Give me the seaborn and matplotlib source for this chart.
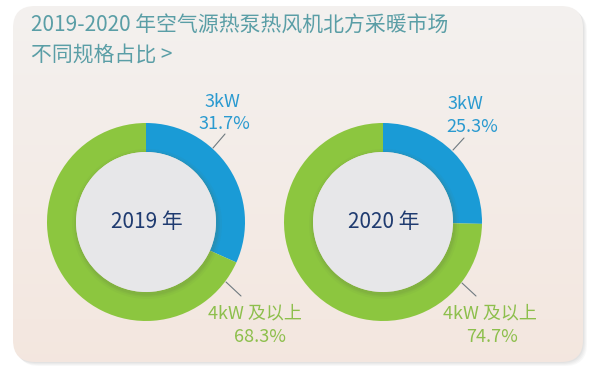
import numpy as np
import pandas as pd
import matplotlib.pyplot as plt
import seaborn as sns
from matplotlib.patches import FancyBboxPatch, Circle

# data
years = ["2019 年", "2020 年"]
segments = ["3kW", "4kW 及以上"]
share_2019 = [31.7, 68.3]
share_2020 = [25.3, 74.7]
title = "2019-2020 年空气源热泵热风机北方采暖市场\n不同规格占比 >"

sns.set_theme(style="white")
plt.rcParams['font.family'] = ['Noto Sans CJK SC', 'DejaVu Sans']

colors = sns.color_palette(["#1a9bd6", "#8cc63f"])
label_colors = ["#2a9ad0", "#8dbf4c"]

W, H = 600, 370
fig = plt.figure(figsize=(6, 3.7), dpi=100)
fig.patch.set_facecolor("white")
ax = fig.add_axes([0, 0, 1, 1])


def Y(y):
    # image rows -> data y
    return H - y


# card shadow + card
for i, a in enumerate([0.05, 0.05, 0.06, 0.07]):
    off = 4 - i
    sh = FancyBboxPatch((13 + off, Y(362) - off), 570, 356, boxstyle="round,pad=0,rounding_size=22",
                        fc="#808080", ec="none", alpha=a, zorder=0)
    ax.add_patch(sh)
card = FancyBboxPatch((13, Y(362)), 570, 356, boxstyle="round,pad=0,rounding_size=22",
                      fc="none", ec="none", zorder=1)
ax.add_patch(card)
grad = np.linspace(0, 1, 256).reshape(-1, 1)
top = np.array([0.955, 0.945, 0.937])
bot = np.array([0.953, 0.905, 0.875])
img = top + (bot - top) * grad[..., None]
im = ax.imshow(img, extent=[13, 583, Y(362), Y(6)], origin="upper", aspect="auto", zorder=1)
im.set_clip_path(card)

ax.text(31, Y(14), title, fontsize=15, color="#5a9ea6", ha="left", va="top",
        linespacing=1.45, fontweight="medium", zorder=5)

df = pd.DataFrame({"year": years, "3kW": [share_2019[0], share_2020[0]],
                   "4kW": [share_2019[1], share_2020[1]]})

centers = [(146, 222), (383, 222)]
lab_pos = [
    # (3kW name, 3kW value, big name, big value, blue line, green line)
    [(222, 102), (224, 124), (255, 313), (260, 337), ((213, 148), (225, 134)), ((226, 282), (241, 296))],
    [(465, 104), (472, 127), (490, 313), (492, 337), ((453, 150), (464, 138)), ((462, 283), (476, 296))],
]

for k, row in df.iterrows():
    cx, cy = centers[k]
    vals = [row["3kW"], row["4kW"]]
    ax.pie(vals, colors=colors, startangle=90, counterclock=False, center=(cx, Y(cy)),
           radius=99, wedgeprops=dict(width=29, edgecolor="none"))
    # inner disk with soft shadow
    for r, a in [(75, 0.05), (73, 0.07), (71.5, 0.09)]:
        ax.add_patch(Circle((cx + 1, Y(cy) - 2), r, fc="#5a6a40", ec="none", alpha=a, zorder=3))
    ax.add_patch(Circle((cx, Y(cy)), 70, fc="#e7e7e9", ec="none", zorder=4))
    ax.text(cx + 1, Y(cy), row["year"], fontsize=15, color="#1f3b70", ha="center", va="center",
            fontweight="medium", zorder=5)

    p = lab_pos[k]
    kw = dict(fontsize=13, ha="center", va="center", fontweight="medium", zorder=5)
    ax.text(p[0][0], Y(p[0][1]), segments[0], color=label_colors[0], **kw)
    ax.text(p[1][0], Y(p[1][1]), f"{vals[0]:.1f}%", color=label_colors[0], **kw)
    ax.text(p[2][0], Y(p[2][1]), segments[1], color=label_colors[1], **kw)
    ax.text(p[3][0], Y(p[3][1]), f"{vals[1]:.1f}%", color=label_colors[1], **kw)
    for (x0, y0), (x1, y1) in [p[4], p[5]]:
        ax.plot([x0, x1], [Y(y0), Y(y1)], color="#6f7a80", lw=0.8, zorder=5)

ax.set_xlim(0, W)
ax.set_ylim(0, H)
ax.set_aspect("equal")
ax.axis("off")

fig.savefig("out.png", dpi=100)
